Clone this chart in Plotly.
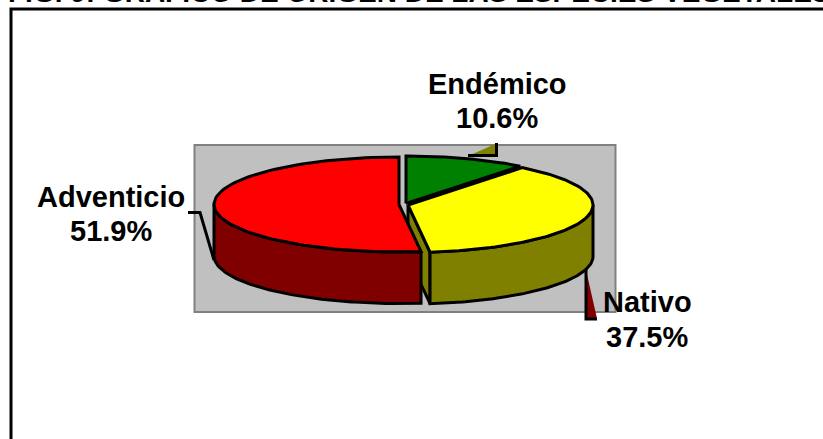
import numpy as np
import plotly.graph_objects as go

# Data
categories = ["Endémico", "Nativo", "Adventicio"]
shares = [10.6, 37.5, 51.9]
title_text = "FIG. 9: GRÁFICO DE ORIGEN DE LAS ESPECIES VEGETALES"

# Look
TOP = ["#008000", "#FFFF00", "#FF0000"]
SIDE = ["#004000", "#808000", "#800000"]
FONT = "Liberation Sans, Arial, sans-serif"
A, B, DEPTH = 185.0, 47.5, 51.5
CENTERS = [(406.0, 203.5), (408.0, 205.0), (399.0, 204.5)]
LW = 3.0

edges = np.concatenate([[0], np.cumsum(shares)]) / sum(shares) * 2 * np.pi


def arc(c, t0, t1, dy=0.0, n=90):
    t = np.linspace(t0, t1, n)
    return c[0] + A * np.sin(t), c[1] - B * np.cos(t) + dy


fig = go.Figure()


def poly(x, y, fill, line=True, close=True):
    x, y = list(x), list(y)
    if close:
        x.append(x[0])
        y.append(y[0])
    fig.add_trace(go.Scatter(
        x=x, y=y, mode="lines", fill="toself" if fill else "none",
        fillcolor=fill, hoverinfo="skip", showlegend=False,
        line=dict(color="#000000" if line else "rgba(0,0,0,0)", width=LW if line else 0),
    ))


# Leader lines sitting under the pie
poly([468, 496.5, 496.5], [156, 143.5, 155], "#808000", line=False)
poly([468, 496.5, 496.5], [155.5, 155.5, 143], None, close=False)
poly([586, 597, 586.5], [270, 318.5, 318.5], "#800000", line=False)
poly([586, 586, 597], [270, 319, 319], None, close=False)
poly([188, 200, 214], [212.5, 212.5, 260], None, close=False)

# Cut face of Nativo (visible beside Adventicio)
c = CENTERS[1]
ex, ey = arc(c, edges[2], edges[2], n=1)
poly([c[0], ex[0], ex[0], c[0]], [c[1], ey[0], ey[0] + DEPTH, c[1] + DEPTH], SIDE[1])

# Outer walls of the two front slices
for i, t0, t1 in [(1, np.pi / 2, edges[2]), (2, edges[2], 3 * np.pi / 2)]:
    ux, uy = arc(CENTERS[i], t0, t1)
    lx, ly = arc(CENTERS[i], t1, t0, DEPTH)
    poly(np.r_[ux, lx], np.r_[uy, ly], SIDE[i])

# Top faces
for i in range(3):
    ax, ay = arc(CENTERS[i], edges[i], edges[i + 1])
    poly(np.r_[CENTERS[i][0], ax], np.r_[CENTERS[i][1], ay], TOP[i])

fig.update_layout(
    width=823, height=439, autosize=False,
    margin=dict(l=0, r=0, t=0, b=0),
    paper_bgcolor="#FFFFFF", plot_bgcolor="#FFFFFF", showlegend=False,
    xaxis=dict(range=[0, 823], visible=False, fixedrange=True),
    yaxis=dict(range=[439, 0], visible=False, fixedrange=True),
    font=dict(family=FONT, color="#000000"),
    shapes=[
        dict(type="rect", xref="x", yref="y", x0=194.5, x1=615.5, y0=145, y1=312,
             fillcolor="#C0C0C0", line=dict(color="#808080", width=2), layer="below"),
        dict(type="rect", xref="x", yref="y", x0=11, x1=840, y0=9, y1=460,
             fillcolor="rgba(0,0,0,0)", line=dict(color="#000000", width=3), layer="above"),
    ],
)

name_pos = [(497, 84), (647, 302), (111, 197)]
value_pos = [(497, 118), (647, 337), (111, 231)]
for name, v, p, q in zip(categories, shares, name_pos, value_pos):
    for text, (x, y) in ((name, p), (f"{v:.1f}%", q)):
        fig.add_annotation(
            x=x, y=y, xref="x", yref="y", showarrow=False, align="center",
            text=f"<b>{text}</b>",
            font=dict(size=29, family=FONT, color="#000000"),
        )

fig.add_annotation(
    x=0.51, y=1, xref="paper", yref="paper", xanchor="center", yanchor="top",
    yshift=25, showarrow=False,
    text=f"<b>{title_text}</b>", font=dict(size=28, family=FONT, color="#000000"),
)

fig.write_html("out.html", config=dict(displayModeBar=False),
               post_script="document.body.style.margin='0';document.body.style.overflow='hidden';")
